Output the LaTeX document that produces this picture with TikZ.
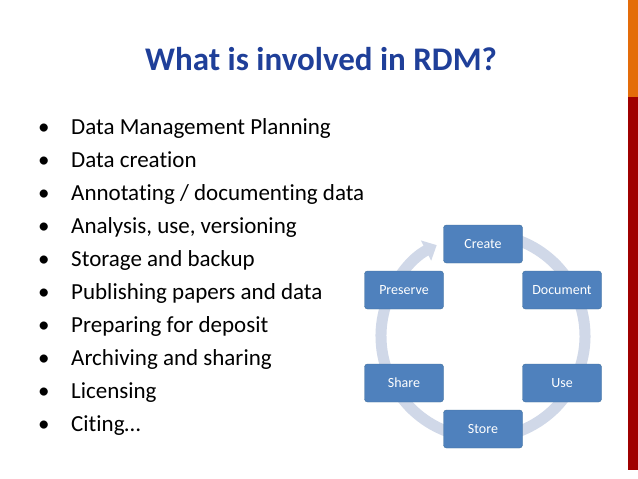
\documentclass[tikz,border=0pt]{standalone}
\usepackage{fontspec}
\setmainfont[Ligatures=NoCommon]{Carlito}
\usetikzlibrary{arrows.meta}
\definecolor{titleblue}{HTML}{1F3F99}
\definecolor{boxblue}{HTML}{4F81BD}
\definecolor{boxedge}{HTML}{41719C}
\definecolor{ringcol}{HTML}{D0D8E8}
\definecolor{barred}{HTML}{A00000}
\definecolor{barorange}{HTML}{E46C0A}
\tikzset{
  stepbox/.style={draw=boxedge,fill=boxblue,rounded corners=3pt,minimum width=79pt,minimum height=38pt,text=white,font=\fontsize{14}{16}\selectfont,inner sep=0pt},
  bul/.style={anchor=base west,font=\fontsize{23}{27}\selectfont,inner sep=0pt},
}
\begin{document}
\begin{tikzpicture}[x=1pt,y=-1pt]
\useasboundingbox (0,0) rectangle (638,479);
\fill[white] (0,0) rectangle (638,479);
\fill[barorange] (628,0) rectangle (638,97);
\fill[barred] (628,97) rectangle (638,470);
\node[font=\bfseries\fontsize{33}{38}\selectfont,text=titleblue,anchor=base] (title) at (321,70) {What is involved in RDM?};
\foreach \t [count=\i] in {Data Management Planning,Data creation,Annotating / documenting data,{Analysis, use, versioning},Storage and backup,Publishing papers and data,Preparing for deposit,Archiving and sharing,Licensing,Citing…}{
  \node[bul] (b\i) at (71,{134+(\i-1)*33}) {\t};
  \node[bul] (d\i) at (38,{134+(\i-1)*33}) {•};
}
\coordinate (c) at (483,336);
\draw[ringcol,line width=11pt,-{Triangle[width=22pt,length=12pt]}] ([shift={(-75:102)}]c) arc[start angle=-75,delta angle=318,radius=102];
\node[stepbox] (create) at (483,244) {Create};
\node[stepbox] (doc) at (562,290) {Document};
\node[stepbox] (use) at (562,383) {Use};
\node[stepbox] (store) at (483,429) {Store};
\node[stepbox] (share) at (404,383) {Share};
\node[stepbox] (pres) at (404,290) {Preserve};
\end{tikzpicture}
\end{document}
